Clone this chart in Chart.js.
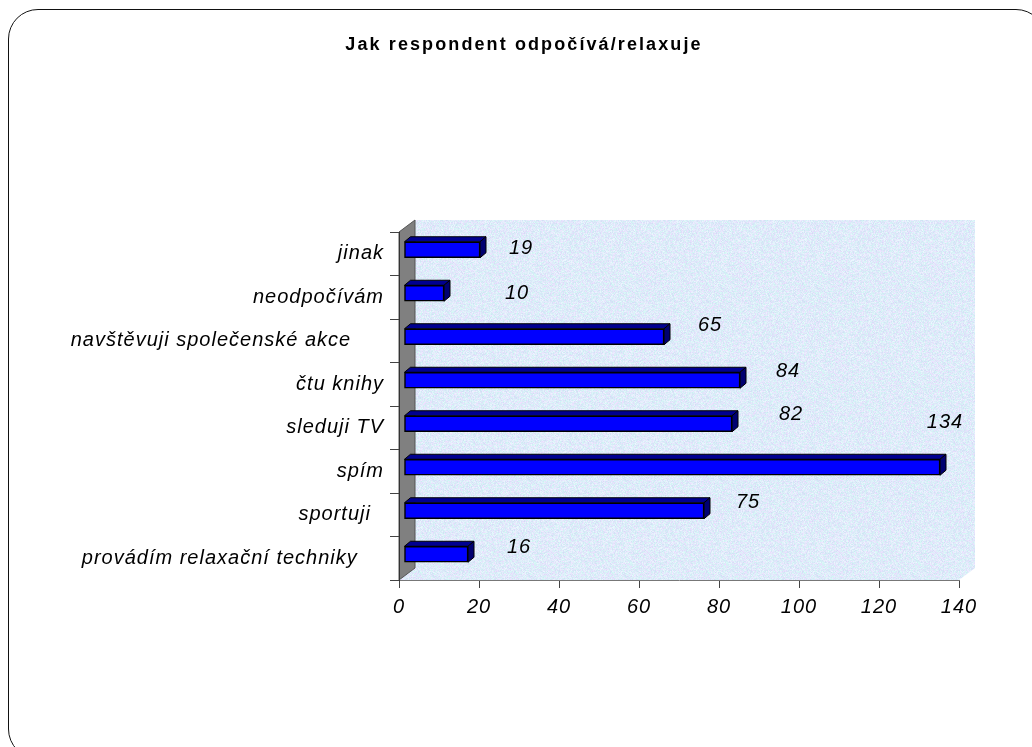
<!DOCTYPE html>
<html>
<head>
<meta charset="utf-8">
<script src="https://cdn.jsdelivr.net/npm/chart.js@4/dist/chart.umd.min.js"></script>
<style>
  html, body { margin: 0; padding: 0; background: #fff; overflow: hidden; }
  #wrap { position: relative; width: 1032px; height: 747px; }
  #frame {
    position: absolute; left: 8px; top: 9px; width: 1036px; height: 748px;
    border: 1.5px solid #111; border-radius: 30px; pointer-events: none;
  }
</style>
</head>
<body>
<div id="wrap">
  <canvas id="chart" width="1032" height="747"></canvas>
  <div id="frame"></div>
</div>
<script>
// Chart data
const chartTitle = "Jak respondent odpočívá/relaxuje";
const categories = [
  "jinak",
  "neodpočívám",
  "navštěvuji společenské akce     ",
  "čtu knihy",
  "sleduji TV",
  "spím",
  "sportuji  ",
  "provádím relaxační techniky    ",
];
const values = [19, 10, 65, 84, 82, 134, 75, 16];
const xTicks = [0, 20, 40, 60, 80, 100, 120, 140];

// where each value label sits, in px from the end of its bar (as in the original)
const labelDx = [46, 78, 51, 53, 64, 10, 49, 56];
const labelDy = [-5, -4, -15, -13, -13, -49, -12, -11];

const FONT = '"Liberation Sans", Arial, sans-serif';
const WALL_DX = 16, WALL_DY = 12; // depth of the 3D walls
const BAR_SHIFT_X = 5, BAR_SHIFT_Y = -4; // bars sit a bit inside the depth
const BAR_DX = 6, BAR_DY = 5; // depth of each bar

// Light blue speckled texture for the back wall
function makeTexture(ctx) {
  const c = document.createElement("canvas");
  c.width = 96;
  c.height = 96;
  const g = c.getContext("2d");
  const img = g.createImageData(96, 96);
  for (let y = 0; y < 96; y++) {
    for (let x = 0; x < 96; x++) {
      const h = Math.abs(Math.sin(x * 12.9898 + y * 78.233) * 43758.5453) % 1;
      const k = Math.abs(Math.sin(x * 39.346 + y * 11.135) * 24634.6345) % 1;
      const i = (y * 96 + x) * 4;
      img.data[i] = 208 + h * 30;
      img.data[i + 1] = 222 + k * 26;
      img.data[i + 2] = 244 + h * 11;
      img.data[i + 3] = 255;
    }
  }
  g.putImageData(img, 0, 0);
  return ctx.createPattern(c, "repeat");
}

let texture = null;

const chart3d = {
  id: "chart3d",
  beforeDraw(chart) {
    const ctx = chart.ctx;
    const a = chart.chartArea;
    ctx.letterSpacing = "1px";
    if (!texture) texture = makeTexture(ctx);

    ctx.save();
    // back wall + floor
    ctx.fillStyle = texture;
    ctx.beginPath();
    ctx.moveTo(a.left + WALL_DX, a.top - WALL_DY);
    ctx.lineTo(a.right + WALL_DX, a.top - WALL_DY);
    ctx.lineTo(a.right + WALL_DX, a.bottom - WALL_DY);
    ctx.lineTo(a.right, a.bottom);
    ctx.lineTo(a.left, a.bottom);
    ctx.lineTo(a.left, a.top);
    ctx.closePath();
    ctx.fill();

    // grey side wall
    ctx.fillStyle = "#808080";
    ctx.strokeStyle = "#555";
    ctx.lineWidth = 1;
    ctx.beginPath();
    ctx.moveTo(a.left, a.top);
    ctx.lineTo(a.left + WALL_DX, a.top - WALL_DY);
    ctx.lineTo(a.left + WALL_DX, a.bottom - WALL_DY);
    ctx.lineTo(a.left, a.bottom);
    ctx.closePath();
    ctx.fill();
    ctx.stroke();
    ctx.restore();
  },
  beforeDatasetsDraw(chart) {
    const ctx = chart.ctx;
    ctx.save();
    ctx.translate(BAR_SHIFT_X, BAR_SHIFT_Y);
    chart.getDatasetMeta(0).data.forEach((bar) => {
      const { x, y, base, height } = bar.getProps(["x", "y", "base", "height"], true);
      const t = y - height / 2;
      const b = y + height / 2;
      ctx.strokeStyle = "#000";
      ctx.lineWidth = 1;
      // top face
      ctx.fillStyle = "#000090";
      ctx.beginPath();
      ctx.moveTo(base, t);
      ctx.lineTo(base + BAR_DX, t - BAR_DY);
      ctx.lineTo(x + BAR_DX, t - BAR_DY);
      ctx.lineTo(x, t);
      ctx.closePath();
      ctx.fill();
      ctx.stroke();
      // side face
      ctx.fillStyle = "#000070";
      ctx.beginPath();
      ctx.moveTo(x, t);
      ctx.lineTo(x + BAR_DX, t - BAR_DY);
      ctx.lineTo(x + BAR_DX, b - BAR_DY);
      ctx.lineTo(x, b);
      ctx.closePath();
      ctx.fill();
      ctx.stroke();
    });
  },
  afterDatasetsDraw(chart) {
    const ctx = chart.ctx;
    ctx.restore();
    const xs = chart.scales.x;
    const ys = chart.scales.y;
    ctx.save();
    ctx.font = "italic 20px " + FONT;
    ctx.fillStyle = "#000";
    ctx.textAlign = "center";
    ctx.textBaseline = "middle";
    values.forEach((v, i) => {
      ctx.fillText(String(v), xs.getPixelForValue(v) + labelDx[i], ys.getPixelForValue(i) + labelDy[i]);
    });
    ctx.restore();
  },
  afterDraw(chart) {
    const ctx = chart.ctx;
    ctx.save();
    ctx.letterSpacing = "2.1px";
    ctx.font = "bold 18px " + FONT;
    ctx.fillStyle = "#000";
    ctx.textAlign = "center";
    ctx.textBaseline = "middle";
    ctx.fillText(chartTitle, 524, 45);
    ctx.restore();
  },
};

new Chart(document.getElementById("chart"), {
  type: "bar",
  data: {
    labels: categories,
    datasets: [
      {
        data: values,
        backgroundColor: "#0000ff",
        borderColor: "#000",
        borderWidth: 1.5,
        borderSkipped: false,
        barThickness: 16,
      },
    ],
  },
  options: {
    indexAxis: "y",
    responsive: false,
    animation: false,
    layout: { padding: { left: 0, right: 73, top: 232, bottom: 127 } },
    plugins: {
      legend: { display: false },
      title: { display: false },
      tooltip: { enabled: false },
    },
    scales: {
      x: {
        min: 0,
        max: 140,
        afterBuildTicks: (s) => {
          s.ticks = xTicks.map((v) => ({ value: v }));
        },
        afterFit: (s) => {
          s.height = 40;
        },
        grid: { drawOnChartArea: false, tickLength: 8, color: "#444" },
        border: { color: "#777", width: 1 },
        ticks: { color: "#000", padding: 7, font: { family: FONT, size: 20, style: "italic" } },
      },
      y: {
        afterFit: (s) => {
          s.width = 399;
        },
        grid: { drawOnChartArea: false, tickLength: 9, color: "#444" },
        border: { color: "#333", width: 1 },
        ticks: { color: "#000", padding: 6, font: { family: FONT, size: 20, style: "italic" } },
      },
    },
  },
  plugins: [chart3d],
});
</script>
</body>
</html>
